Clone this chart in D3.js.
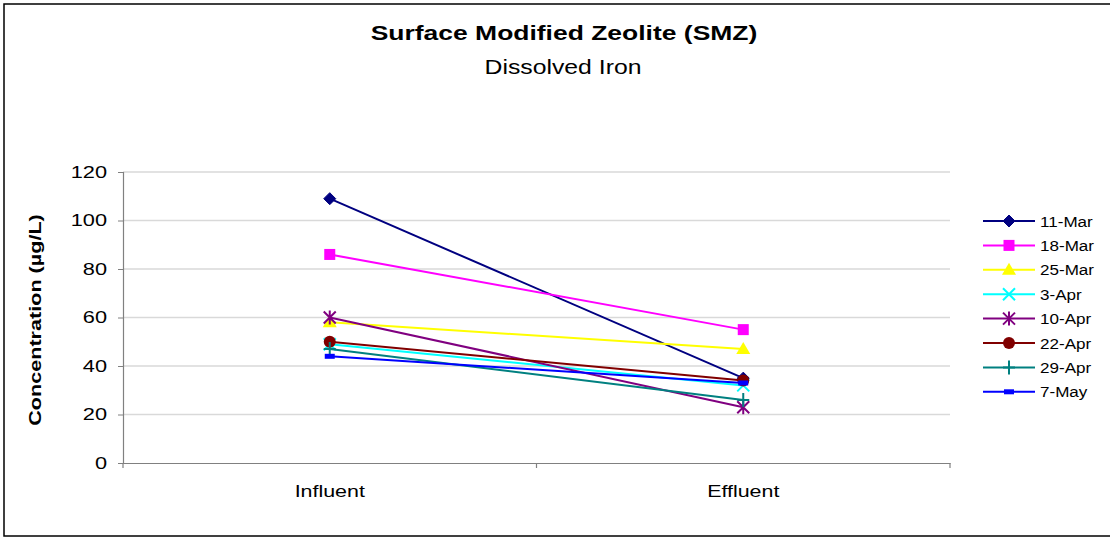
<!DOCTYPE html>
<html><head><meta charset="utf-8">
<script src="https://cdn.jsdelivr.net/npm/d3@7"></script>
<style>body{margin:0;background:#fff}svg{display:block;font-family:"Liberation Sans",Arial,sans-serif}</style>
</head><body>
<svg id="c" width="1110" height="537"></svg>
<script>
const categories = ["Influent", "Effluent"];
const seriesNames = ["11-Mar","18-Mar","25-Mar","3-Apr","10-Apr","22-Apr","29-Apr","7-May"];
const s11Mar = [109, 35];
const s18Mar = [86, 55];
const s25Mar = [58, 47];
const s3Apr  = [49, 32];
const s10Apr = [60, 23];
const s22Apr = [50, 34];
const s29Apr = [47, 26];
const s7May  = [44, 33];
const yTicks = [0,20,40,60,80,100,120];
const colors = ["#000080","#FF00FF","#FFFF00","#00FFFF","#800080","#800000","#008080","#0000FF"];
const symbols = ["diamond","square","triangle","x","star","circle","plus","dash"];
const seriesValues = [s11Mar,s18Mar,s25Mar,s3Apr,s10Apr,s22Apr,s29Apr,s7May];

function stretch(sel, f){
  sel.each(function(){
    const w = this.getComputedTextLength();
    d3.select(this).attr("textLength", w*f).attr("lengthAdjust","spacingAndGlyphs");
  });
}

const svg = d3.select("#c");
svg.append("rect").attr("x",4).attr("y",4).attr("width",1110).attr("height",532)
  .attr("fill","#fff").attr("stroke","#000").attr("stroke-width",1.5);

const L=123, R=950, T=172, B=463;
const x = d3.scaleBand().domain(categories).range([L,R]);
const y = d3.scaleLinear().domain([0,120]).range([B,T]);

// grid
svg.append("g").selectAll("line").data(yTicks.filter(d=>d>0)).join("line")
  .attr("x1",L).attr("x2",R).attr("y1",d=>y(d)).attr("y2",d=>y(d))
  .attr("stroke","#d9d9d9").attr("stroke-width",1.5);

// y axis
const ya = svg.append("g").attr("transform",`translate(${L},0)`)
  .call(d3.axisLeft(y).tickValues(yTicks).tickSize(5).tickPadding(11));
ya.select(".domain").attr("stroke","#808080").attr("stroke-width",1.2);
ya.selectAll(".tick line").attr("stroke","#808080");
ya.selectAll("text").attr("font-size",17).attr("fill","#000").attr("font-family","Liberation Sans, Arial");
stretch(ya.selectAll("text"),1.28);

// x axis
const xa = svg.append("g").attr("transform",`translate(0,${B})`)
  .call(d3.axisBottom(x).tickSize(0).tickPadding(22));
xa.select(".domain").attr("stroke","#808080").attr("stroke-width",1.2);
xa.selectAll("text").attr("font-size",17).attr("fill","#000").attr("font-family","Liberation Sans, Arial");
stretch(xa.selectAll("text"),1.26);
// category boundary ticks
const bounds = [L, ...categories.slice(1).map(c=>x(c)), R];
svg.append("g").selectAll("line").data(bounds).join("line")
  .attr("x1",d=>d).attr("x2",d=>d).attr("y1",B).attr("y2",B+5)
  .attr("stroke","#808080").attr("stroke-width",1.2);

// titles
const t1 = svg.append("text").attr("x",564).attr("y",40).attr("text-anchor","middle")
  .attr("font-size",21).attr("font-weight","bold").text("Surface Modified Zeolite (SMZ)");
const t2 = svg.append("text").attr("x",563).attr("y",74).attr("text-anchor","middle")
  .attr("font-size",21).text("Dissolved Iron");
const t3 = svg.append("text").attr("transform","translate(41,320) rotate(-90)").attr("text-anchor","middle")
  .attr("font-size",17).attr("font-weight","bold").text("Concentration (µg/L)");
stretch(t1,1.26); stretch(t2,1.18); stretch(t3,1.27);

function drawMarker(g, sym, color, cx, cy){
  if(sym==="diamond") g.append("path").attr("d",`M${cx},${cy-6}L${cx+6},${cy}L${cx},${cy+6}L${cx-6},${cy}Z`).attr("fill",color).attr("stroke",color);
  else if(sym==="square") g.append("rect").attr("x",cx-5.5).attr("y",cy-5.5).attr("width",11).attr("height",11).attr("fill",color);
  else if(sym==="triangle") g.append("path").attr("d",`M${cx},${cy-7}L${cx+7},${cy+5}L${cx-7},${cy+5}Z`).attr("fill",color);
  else if(sym==="x") g.append("path").attr("d",`M${cx-6},${cy-6}L${cx+6},${cy+6}M${cx-6},${cy+6}L${cx+6},${cy-6}`).attr("stroke",color).attr("stroke-width",2);
  else if(sym==="star") g.append("path").attr("d",`M${cx-6},${cy-6}L${cx+6},${cy+6}M${cx-6},${cy+6}L${cx+6},${cy-6}M${cx},${cy-7}L${cx},${cy+7}`).attr("stroke",color).attr("stroke-width",2);
  else if(sym==="circle") g.append("circle").attr("cx",cx).attr("cy",cy).attr("r",6).attr("fill",color);
  else if(sym==="plus") g.append("path").attr("d",`M${cx-6},${cy}L${cx+6},${cy}M${cx},${cy-7}L${cx},${cy+7}`).attr("stroke",color).attr("stroke-width",2);
  else if(sym==="dash") g.append("rect").attr("x",cx-5).attr("y",cy-2.5).attr("width",10).attr("height",5).attr("fill",color);
}

const line = d3.line().x((d,i)=>x(categories[i])+x.bandwidth()/2).y(d=>y(d));
seriesValues.forEach((vals,k)=>{
  const g = svg.append("g");
  g.append("path").attr("d",line(vals)).attr("fill","none").attr("stroke",colors[k]).attr("stroke-width",2);
  vals.forEach((v,i)=>drawMarker(g,symbols[k],colors[k],x(categories[i])+x.bandwidth()/2,y(v)));
});

// legend
const lg = svg.append("g");
seriesNames.forEach((n,k)=>{
  const ly = 221 + k*24.4;
  lg.append("line").attr("x1",983).attr("x2",1035).attr("y1",ly).attr("y2",ly).attr("stroke",colors[k]).attr("stroke-width",2);
  drawMarker(lg,symbols[k],colors[k],1009,ly);
  const t = lg.append("text").attr("x",1040).attr("y",ly+5.5).attr("font-size",15.5).text(n);
  stretch(t,1.1);
});
</script>
</body></html>
